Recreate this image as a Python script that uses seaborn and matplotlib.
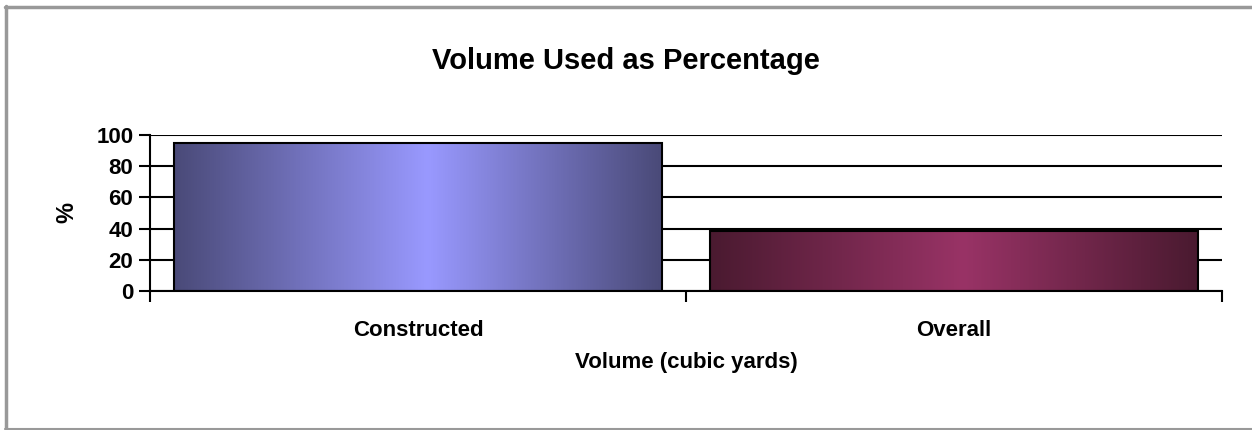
import numpy as np
import pandas as pd
import seaborn as sns
import matplotlib.pyplot as plt
from matplotlib.colors import LinearSegmentedColormap
from matplotlib.lines import Line2D

# dados do gráfico
categorias = ["Constructed", "Overall"]
percentuais = [95, 38.5]
cores_borda = ["#4a4a78", "#4a1a30"]
cores_centro = ["#9999ff", "#993366"]

df = pd.DataFrame({"categoria": categorias, "pct": percentuais})

sns.set_style("white")
plt.rcParams["font.family"] = ["Liberation Sans", "DejaVu Sans"]
plt.rcParams["font.weight"] = "bold"
plt.rcParams["text.color"] = "black"
plt.rcParams["axes.labelcolor"] = "black"
plt.rcParams["xtick.labelcolor"] = "black"
plt.rcParams["ytick.labelcolor"] = "black"

fig = plt.figure(figsize=(12.52, 4.30), dpi=100)
ax = fig.add_axes([0.1198, 0.3233, 0.8562, 0.3628])

sns.barplot(data=df, x="categoria", y="pct", hue="categoria", palette=cores_centro,
            legend=False, width=0.91, edgecolor="black", linewidth=1.5, ax=ax, zorder=3)

# gradiente horizontal em cada barra (estilo Excel)
grad = np.linspace(0, 1, 256).reshape(1, -1)
for patch, c0, c1 in zip(ax.patches, cores_borda, cores_centro):
    cmap = LinearSegmentedColormap.from_list("g", [(0, c0), (0.52, c1), (1, c0)])
    x0, y0 = patch.get_x(), patch.get_y()
    w, h = patch.get_width(), patch.get_height()
    ax.imshow(grad, cmap=cmap, aspect="auto", extent=(x0, x0 + w, y0, y0 + h), zorder=2)
    patch.set_facecolor("none")

ax.set_xlim(-0.5, 1.5)
ax.set_ylim(0, 100)
ax.set_yticks(range(0, 101, 20))
ax.set_xticks([0, 1])
ax.set_xticks([-0.5, 0.5, 1.5], minor=True)
ax.tick_params(axis="x", which="major", length=0, labelsize=16, pad=21)
ax.tick_params(axis="x", which="minor", length=8, width=1.5, color="black", direction="out", bottom=True)
ax.tick_params(axis="y", length=8, width=1.5, color="black", direction="out", left=True, labelsize=16, pad=4)
for lbl in ax.get_xticklabels() + ax.get_yticklabels():
    lbl.set_fontweight("bold")

ax.grid(axis="y", color="black", linewidth=1.5, zorder=0.5)
ax.set_axisbelow(True)
for s in ["top", "right"]:
    ax.spines[s].set_visible(False)
for s in ["left", "bottom"]:
    ax.spines[s].set_color("black")
    ax.spines[s].set_linewidth(1.5)

ax.set_xlabel("Volume (cubic yards)", fontsize=16, fontweight="bold", labelpad=8)
ax.set_ylabel("%", fontsize=17, fontweight="bold", labelpad=13)
fig.text(0.5, 0.857, "Volume Used as Percentage", ha="center", va="center",
         fontsize=21, fontweight="bold")

# moldura cinza do gráfico
cinza = "#999999"
fig.add_artist(Line2D([5 / 1252, 1], [1 - 7 / 430, 1 - 7 / 430], color=cinza, linewidth=2.5))
fig.add_artist(Line2D([6 / 1252, 6 / 1252], [1 / 430, 1 - 6 / 430], color=cinza, linewidth=2.5))
fig.add_artist(Line2D([5 / 1252, 1], [1.5 / 430, 1.5 / 430], color=cinza, linewidth=1.5))

fig.savefig("out.png", dpi=100)
